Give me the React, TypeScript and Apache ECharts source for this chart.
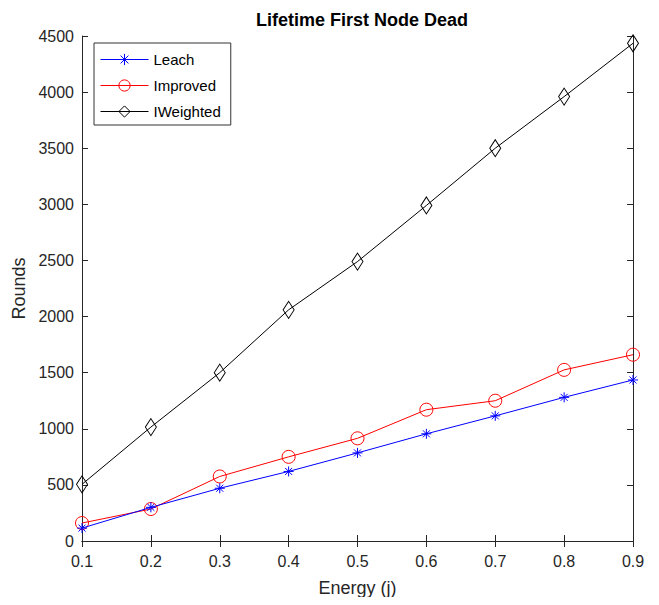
import React, { useEffect, useRef } from "react";
import * as echarts from "echarts";

const energy = ["0.1", "0.2", "0.3", "0.4", "0.5", "0.6", "0.7", "0.8", "0.9"];
const leach = [115, 300, 470, 620, 785, 955, 1115, 1280, 1435];
const improved = [160, 285, 575, 750, 915, 1170, 1250, 1525, 1660];
const iweighted = [505, 1015, 1500, 2060, 2490, 2990, 3500, 3960, 4435];

const ASTERISK =
  "path://M0,-10L0,10M-10,0L10,0M-7,-7L7,7M-7,7L7,-7";

const FONT = "'Liberation Sans', Arial, Helvetica, sans-serif";
const AXIS_COLOR = "#262626";

export default function App() {
  const ref = useRef<HTMLDivElement>(null);
  useEffect(() => {
    if (!ref.current) return;
    const chart = echarts.init(ref.current, undefined, { renderer: "svg" });
    const axisCommon = {
      axisLine: { show: true, lineStyle: { color: AXIS_COLOR, width: 1 } },
      axisTick: { show: true, inside: true, length: 6, lineStyle: { color: AXIS_COLOR } },
      splitLine: { show: false },
    };
    chart.setOption({
      animation: false,
      backgroundColor: "#ffffff",
      textStyle: { fontFamily: FONT },
      title: {
        text: "Lifetime First Node Dead",
        left: 357,
        textAlign: "center",
        top: 6,
        textStyle: { fontSize: 18, fontWeight: "bold", color: "#000", fontFamily: FONT },
      },
      legend: {
        orient: "vertical",
        left: 94,
        top: 43,
        padding: [9, 10, 6, 6],
        itemGap: 11,
        itemWidth: 48,
        itemHeight: 14,
        backgroundColor: "#fff",
        borderColor: "#333",
        borderWidth: 1,
        borderRadius: 0,
        itemStyle: { borderWidth: 1 },
        lineStyle: { width: 1 },
        textStyle: { fontSize: 15, color: "#000", fontFamily: FONT },
        data: ["Leach", "Improved", "IWeighted"],
      },
      grid: { left: 82, right: 26, top: 36, bottom: 64, containLabel: false },
      xAxis: [
        {
          type: "category",
          data: energy,
          boundaryGap: false,
          ...axisCommon,
          axisLabel: { color: AXIS_COLOR, fontSize: 16, margin: 12, fontFamily: FONT },
          name: "Energy (j)",
          nameLocation: "middle",
          nameGap: 38,
          nameTextStyle: { color: AXIS_COLOR, fontSize: 18, fontFamily: FONT },
        },
        {
          type: "category",
          data: energy,
          boundaryGap: false,
          position: "top",
          ...axisCommon,
          axisLabel: { show: false },
        },
      ],
      yAxis: [
        {
          type: "value",
          min: 0,
          max: 4500,
          interval: 500,
          ...axisCommon,
          axisLabel: {
            color: AXIS_COLOR,
            fontSize: 16,
            margin: 8,
            fontFamily: FONT,
            formatter: (v: number) => String(v),
          },
          name: "Rounds",
          nameLocation: "middle",
          nameGap: 52,
          nameTextStyle: { color: AXIS_COLOR, fontSize: 18, fontFamily: FONT },
        },
        {
          type: "value",
          min: 0,
          max: 4500,
          interval: 500,
          position: "right",
          ...axisCommon,
          axisLabel: { show: false },
        },
      ],
      series: [
        {
          name: "Leach",
          type: "line",
          data: leach,
          symbol: ASTERISK,
          symbolSize: 10,
          lineStyle: { color: "#0000ff", width: 1 },
          itemStyle: { color: "rgba(0,0,0,0)", borderColor: "#0000ff", borderWidth: 1 },
          z: 4,
        },
        {
          name: "Improved",
          type: "line",
          data: improved,
          symbol: "circle",
          symbolSize: 13,
          lineStyle: { color: "#ff0000", width: 1 },
          itemStyle: { color: "rgba(0,0,0,0)", borderColor: "#ff0000", borderWidth: 1 },
          z: 3,
        },
        {
          name: "IWeighted",
          type: "line",
          data: iweighted,
          symbol: "diamond",
          symbolSize: [11, 17],
          lineStyle: { color: "#000000", width: 1 },
          itemStyle: { color: "rgba(0,0,0,0)", borderColor: "#000000", borderWidth: 1 },
          z: 2,
        },
      ],
    });
    return () => chart.dispose();
  }, []);
  return <div ref={ref} style={{ width: 659, height: 605, margin: -8 }} />;
}
